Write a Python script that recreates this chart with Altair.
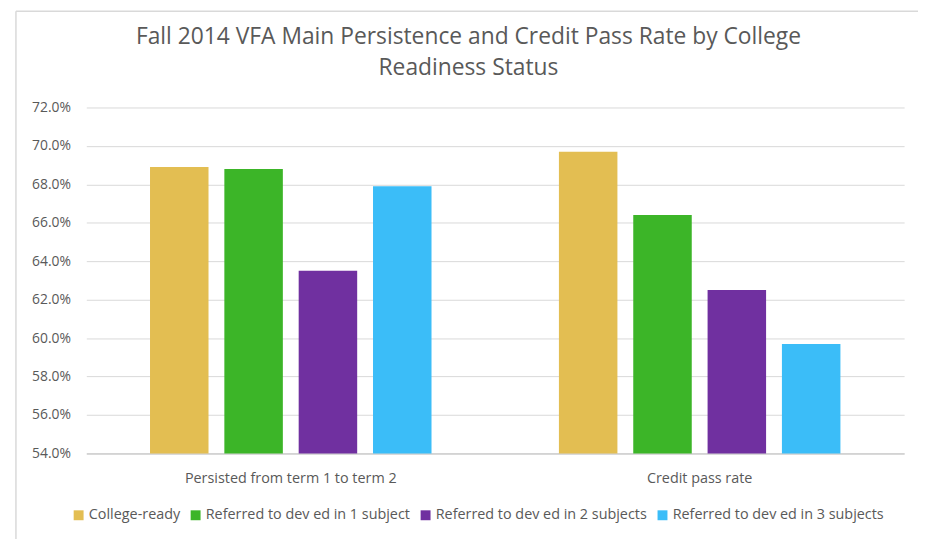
import altair as alt
import pandas as pd

groups = ["Persisted from term 1 to term 2", "Credit pass rate"]
series = ["College-ready", "Referred to dev ed in 1 subject",
          "Referred to dev ed in 2 subjects", "Referred to dev ed in 3 subjects"]
values_persist = [0.689, 0.688, 0.635, 0.679]
values_pass = [0.697, 0.664, 0.625, 0.597]
colors = ["#E3BE52", "#3CB528", "#7030A0", "#3BBDF8"]
y_ticks = [0.54, 0.56, 0.58, 0.60, 0.62, 0.64, 0.66, 0.68, 0.70, 0.72]

rows = []
for s, v in zip(series, values_persist):
    rows.append({"group": groups[0], "series": s, "value": v})
for s, v in zip(series, values_pass):
    rows.append({"group": groups[1], "series": s, "value": v})
df = pd.DataFrame(rows)

FONT = "Open Sans"
TXT = "#595959"

bars = alt.Chart(df).mark_bar(clip=True).encode(
    x=alt.X("group:N", sort=groups, title=None,
            scale=alt.Scale(paddingInner=0, paddingOuter=0),
            axis=alt.Axis(labelAngle=0, labelFontSize=14.5, labelColor=TXT, labelFont=FONT,
                          ticks=False, domainColor="#BFBFBF", labelPadding=18,
                          labelLimit=0)),
    xOffset=alt.XOffset("series:N", sort=series,
                        scale=alt.Scale(paddingInner=0.213, paddingOuter=0.857)),
    y=alt.Y("value:Q", title=None,
            scale=alt.Scale(domain=[0.54, 0.72], zero=False, nice=False),
            axis=alt.Axis(values=y_ticks, format=".1%", labelFontSize=14, labelColor=TXT,
                          labelFont=FONT, ticks=False, domain=False, gridColor="#D9D9D9",
                          labelPadding=16)),
    color=alt.Color("series:N", sort=series,
                    scale=alt.Scale(domain=series, range=colors),
                    legend=alt.Legend(title=None, orient="none", direction="horizontal",
                                      legendX=-15, legendY=404, columns=4,
                                      symbolType="square", symbolSize=100,
                                      symbolStrokeWidth=0, labelFontSize=14.5,
                                      labelColor=TXT, labelFont=FONT, labelLimit=0,
                                      columnPadding=8, symbolOffset=0,
                                      labelOffset=3)),
)

frame_src = pd.DataFrame({"k": [0]})
frame_top = alt.Chart(frame_src).mark_rule(color="#D9D9D9", strokeWidth=1.5).encode(
    x=alt.value(-71), x2=alt.value(845), y=alt.value(-97))
frame_left = alt.Chart(frame_src).mark_rule(color="#D9D9D9", strokeWidth=1.5).encode(
    x=alt.value(-71), y=alt.value(-97), y2=alt.value(440))

chart = alt.layer(frame_top, frame_left, bars).properties(
    width=825,
    height=349,
    background="white",
    title=alt.TitleParams(
        text=["Fall 2014 VFA Main Persistence and Credit Pass Rate by College",
              "Readiness Status"],
        fontSize=23, font=FONT, fontWeight="normal", color=TXT,
        anchor="middle", dx=-27, dy=90, offset=20, lineHeight=31),
    autosize=alt.AutoSizeParams(type="none"),
    padding={"left": 79, "top": 98, "right": 14, "bottom": 90},
).configure_view(strokeWidth=0)

chart.save("out.html", embed_options={"renderer": "svg", "actions": False})
